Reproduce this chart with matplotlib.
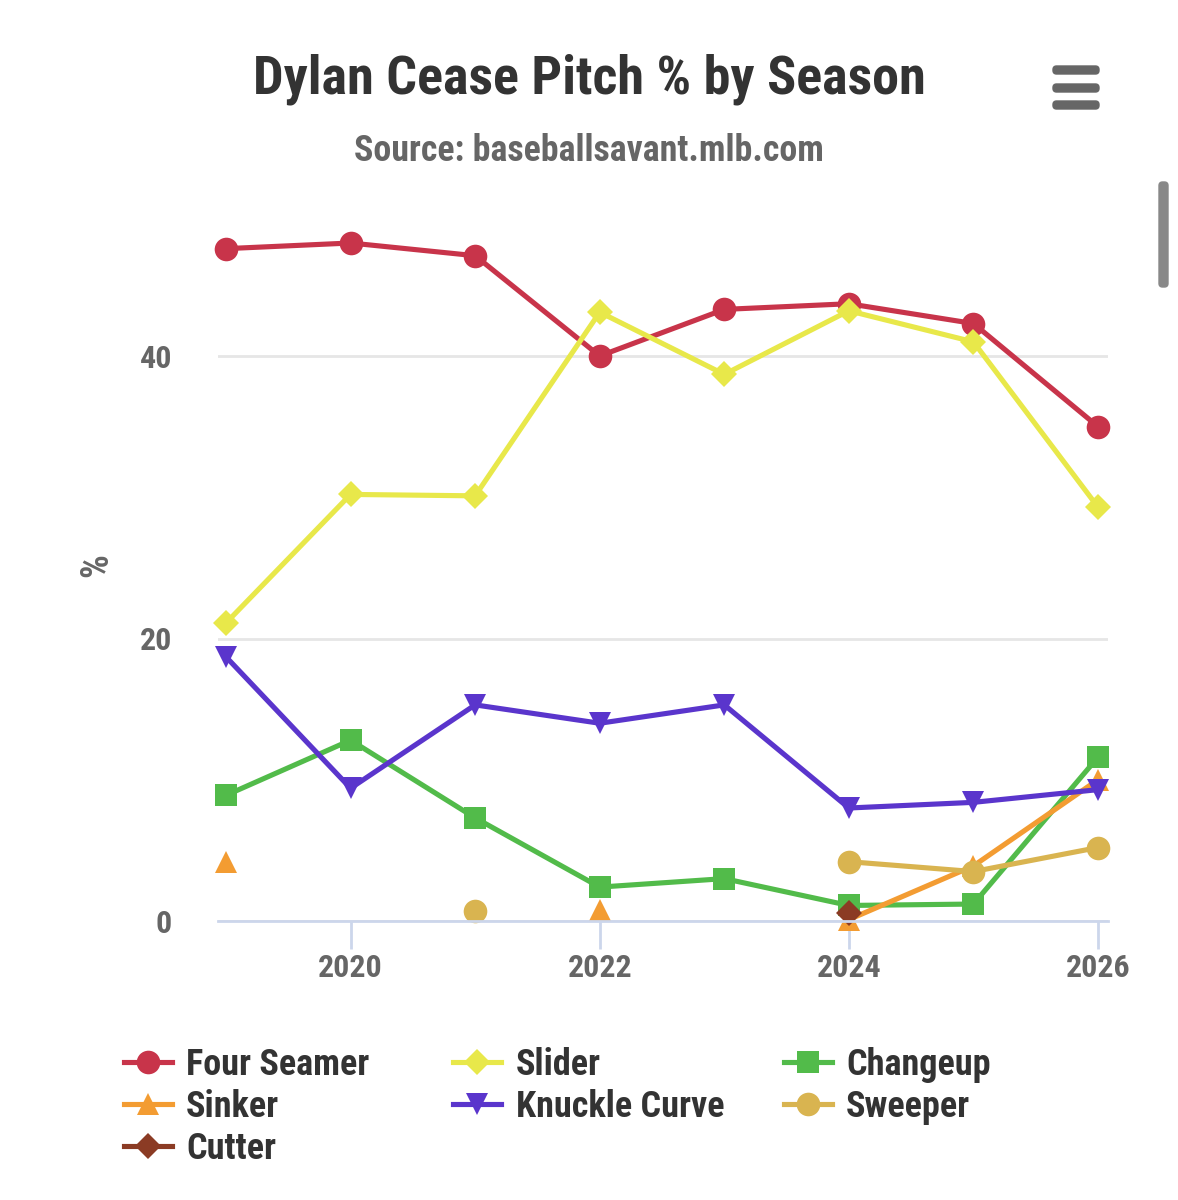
import numpy as np
import matplotlib
matplotlib.use("Agg")
import matplotlib.pyplot as plt
from matplotlib import font_manager
from matplotlib.lines import Line2D
from matplotlib.patches import FancyBboxPatch

# ---- data ----
seasons = [2019, 2020, 2021, 2022, 2023, 2024, 2025, 2026]
nan = np.nan
four_seamer = [47.6, 48.0, 47.1, 40.0, 43.3, 43.7, 42.3, 35.0]
slider = [21.1, 30.2, 30.1, 43.1, 38.7, 43.2, 41.0, 29.3]
changeup = [8.9, 12.8, 7.3, 2.4, 3.0, 1.1, 1.2, 11.6]
sinker = [4.2, nan, nan, 0.8, nan, 0.1, 3.9, 10.0]
knuckle_curve = [18.7, 9.4, 15.3, 14.0, 15.3, 8.0, 8.4, 9.3]
sweeper = [nan, nan, 0.7, nan, nan, 4.2, 3.5, 5.2]
cutter = [nan, nan, nan, nan, nan, 0.6, nan, nan]

series = [
    ("Four Seamer", four_seamer, "#c8344a", "o", 17),
    ("Slider", slider, "#e8e84a", "D", 13),
    ("Changeup", changeup, "#52bb4a", "s", 16),
    ("Sinker", sinker, "#f39c32", "^", 16),
    ("Knuckle Curve", knuckle_curve, "#5a35cc", "v", 16),
    ("Sweeper", sweeper, "#d9b450", "o", 17),
    ("Cutter", cutter, "#8b3b24", "D", 13),
]

x_ticks = [2020, 2022, 2024, 2026]
y_ticks = [0, 20, 40]
title = "Dylan Cease Pitch % by Season"
subtitle = "Source: baseballsavant.mlb.com"

# ---- fonts ----
avail = {f.name for f in font_manager.fontManager.ttflist}
fam = None
for cand in ["Roboto Condensed", "Liberation Sans Narrow", "Roboto", "DejaVu Sans"]:
    if cand in avail:
        fam = cand
        break
plt.rcParams["font.family"] = [fam, "DejaVu Sans"]
plt.rcParams["font.weight"] = "bold"

W, H = 1178, 1200
fig = plt.figure(figsize=(W / 100, H / 100), dpi=100)
fig.patch.set_facecolor("white")

left_px, right_px, top_px, bottom_px = 218, 1108, 185, 921
ax = fig.add_axes([left_px / W, 1 - bottom_px / H, (right_px - left_px) / W, (bottom_px - top_px) / H])

x0_px, x1_px = 226, 1098
ppy = (x1_px - x0_px) / 7.0
ax.set_xlim(2019 - (x0_px - left_px) / ppy, 2026 + (right_px - x1_px) / ppy)
ppv = (921 - 356) / 40.0
ax.set_ylim(0, (bottom_px - top_px) / ppv)

LW = 3.7
for name, vals, col, mk, ms in series:
    ax.plot(seasons, vals, color=col, lw=LW, marker=mk, markersize=ms,
            markeredgewidth=0, label=name, solid_joinstyle="round", clip_on=False)

ax.set_xticks(x_ticks)
ax.set_yticks(y_ticks)
ax.set_yticklabels([str(v) for v in y_ticks])
for s in ["top", "right", "left"]:
    ax.spines[s].set_visible(False)
ax.spines["bottom"].set_color("#ccd6eb")
ax.spines["bottom"].set_linewidth(2)
ax.grid(axis="y", color="#e6e6e6", lw=2)
ax.set_axisbelow(True)
ax.tick_params(axis="x", length=20, width=2, color="#ccd6eb", labelsize=23, labelcolor="#666666", pad=3)
ax.tick_params(axis="y", length=0, labelsize=23, labelcolor="#666666", pad=33)

fig.text(97 / W, 1 - 565 / H, "%", rotation=90, ha="center", va="center", fontsize=27, color="#666666")
fig.text(0.5, 1 - 79 / H, title, ha="center", va="center", fontsize=39, color="#333333")
fig.text(0.5, 1 - 151 / H, subtitle, ha="center", va="center", fontsize=25.8, color="#666666")

# legend (drawn manually, row-major like the reference)
style = {name: (col, mk, ms) for name, _, col, mk, ms in series}
legend_names = [s[0] for s in series]
col_marker_x = [148, 477, 808]
col_text_x = [186, 516, 846]
row_baseline = [1075, 1117, 1159]
for i, name in enumerate(legend_names):
    r, c = divmod(i, 3)
    col, mk, ms = style[name]
    mx = col_marker_x[c]
    yc = row_baseline[r] - 13
    fig.add_artist(Line2D([(mx - 24) / W, (mx + 24) / W], [1 - yc / H, 1 - yc / H],
                          color=col, lw=LW, transform=fig.transFigure))
    fig.add_artist(Line2D([mx / W], [1 - yc / H], color=col, marker=mk, markersize=ms,
                          markeredgewidth=0, lw=0, transform=fig.transFigure))
    fig.text(col_text_x[c] / W, 1 - row_baseline[r] / H, name, ha="left", va="baseline",
             fontsize=26, color="#333333")

# menu icon & scrollbar decorations
for yy in [70, 88, 105]:
    fig.patches.append(FancyBboxPatch(((1053) / W, 1 - (yy + 4) / H), 46 / W, 8 / H,
                                      boxstyle="round,pad=0,rounding_size=0.003",
                                      transform=fig.transFigure, color="#666666"))
fig.patches.append(FancyBboxPatch((1159 / W, 1 - 287 / H), 9 / W, 105 / H,
                                  boxstyle="round,pad=0,rounding_size=0.003",
                                  transform=fig.transFigure, color="#888888"))

fig.savefig("out.png", dpi=100, facecolor="white")
